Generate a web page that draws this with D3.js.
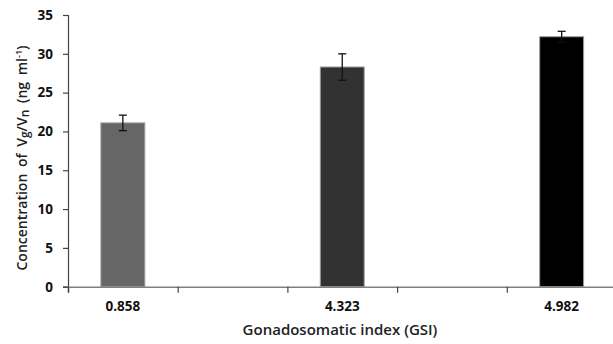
<!DOCTYPE html>
<html><head><meta charset="utf-8">
<script src="https://cdn.jsdelivr.net/npm/d3@7"></script>
<style>body{margin:0;background:#fff}svg{display:block}</style>
</head><body>
<svg id="c" width="613" height="344"></svg>
<script>
const categories = ["0.858", "4.323", "4.982"];
const slots = [0, 2, 4];            // category slot on the axis (empty slots between)
const values = [21.1, 28.3, 32.2];
const errors = [1.0, 1.7, 0.7];
const colors = ["#666666", "#323232", "#000000"];
const yTicks = [0, 5, 10, 15, 20, 25, 30, 35];

(function () {
const svg = d3.select("#c");
const mLeft = 68, mRight = 616.5, mTop = 15, mBottom = 286.7;
const nSlots = 5;
const x = d3.scaleLinear().domain([0, nSlots]).range([mLeft, mRight]);
const y = d3.scaleLinear().domain([0, 35]).range([mBottom, mTop]);
const slotW = x(1) - x(0);
const barW = slotW / 2.5;
const font = "'Open Sans', 'DejaVu Sans', sans-serif";

// y axis
const yAxis = svg.append("g").attr("transform", `translate(${mLeft},0)`)
  .call(d3.axisLeft(y).tickValues(yTicks).tickSize(5).tickPadding(10));
yAxis.select(".domain").attr("stroke", "#444").attr("stroke-width", 1.2);
yAxis.selectAll(".tick line").attr("stroke", "#444").attr("stroke-width", 1.2);
yAxis.selectAll("text").attr("font-family", font).attr("font-weight", "bold")
  .attr("font-size", 13.5).attr("fill", "#111");

// bars
svg.selectAll("rect.bar").data(values).enter().append("rect")
  .attr("x", (d, i) => x(slots[i] + 0.5) - barW / 2)
  .attr("y", d => y(d))
  .attr("width", barW)
  .attr("height", d => y(0) - y(d))
  .attr("fill", (d, i) => colors[i])
  .attr("stroke", "#9a9a9a").attr("stroke-width", 1);

// error bars
const eg = svg.selectAll("g.err").data(values).enter().append("g")
  .attr("stroke", "#111").attr("stroke-width", 1.3);
eg.append("line")
  .attr("x1", (d, i) => x(slots[i] + 0.5)).attr("x2", (d, i) => x(slots[i] + 0.5))
  .attr("y1", (d, i) => y(d + errors[i])).attr("y2", (d, i) => y(d - errors[i]));
eg.append("line")
  .attr("x1", (d, i) => x(slots[i] + 0.5) - 4).attr("x2", (d, i) => x(slots[i] + 0.5) + 4)
  .attr("y1", (d, i) => y(d + errors[i])).attr("y2", (d, i) => y(d + errors[i]));
eg.append("line")
  .attr("x1", (d, i) => x(slots[i] + 0.5) - 4).attr("x2", (d, i) => x(slots[i] + 0.5) + 4)
  .attr("y1", (d, i) => y(d - errors[i])).attr("y2", (d, i) => y(d - errors[i]));

// x axis (category boundary ticks)
const xAxis = svg.append("g").attr("transform", `translate(0,${mBottom})`)
  .call(d3.axisBottom(x).tickValues(d3.range(0, nSlots + 1)).tickSize(6).tickFormat(""));
xAxis.select(".domain").attr("stroke", "#808080").attr("stroke-width", 1.6);
xAxis.selectAll(".tick line").attr("stroke", "#444").attr("stroke-width", 1.2);

// category labels
svg.selectAll("text.cat").data(categories).enter().append("text")
  .attr("x", (d, i) => x(slots[i] + 0.5)).attr("y", 311)
  .attr("text-anchor", "middle").attr("font-family", font).attr("font-weight", "bold")
  .attr("font-size", 13.5).attr("fill", "#111").text(d => d);

// axis titles
svg.append("text").attr("x", 340).attr("y", 335).attr("text-anchor", "middle")
  .attr("font-family", font).attr("font-weight", 600).attr("font-size", 15).attr("fill", "#222")
  .text("Gonadosomatic index (GSI)");

const yt = svg.append("text").attr("transform", `translate(27,158) rotate(-90)`)
  .attr("text-anchor", "middle").attr("font-family", font).attr("font-weight", 600)
  .attr("font-size", 14).attr("fill", "#222").attr("word-spacing", 3);
yt.append("tspan").text("Concentration of V");
yt.append("tspan").attr("dy", 2).attr("font-size", 12).text("g");
yt.append("tspan").attr("dy", -2).text("/V");
yt.append("tspan").attr("dy", 2).attr("font-size", 12).text("n");
yt.append("tspan").attr("dy", -2).text(" (ng ml");
yt.append("tspan").attr("dy", -5).attr("font-size", 9).text("-1");
yt.append("tspan").attr("dy", 5).text(")");
})();
</script>
</body></html>
